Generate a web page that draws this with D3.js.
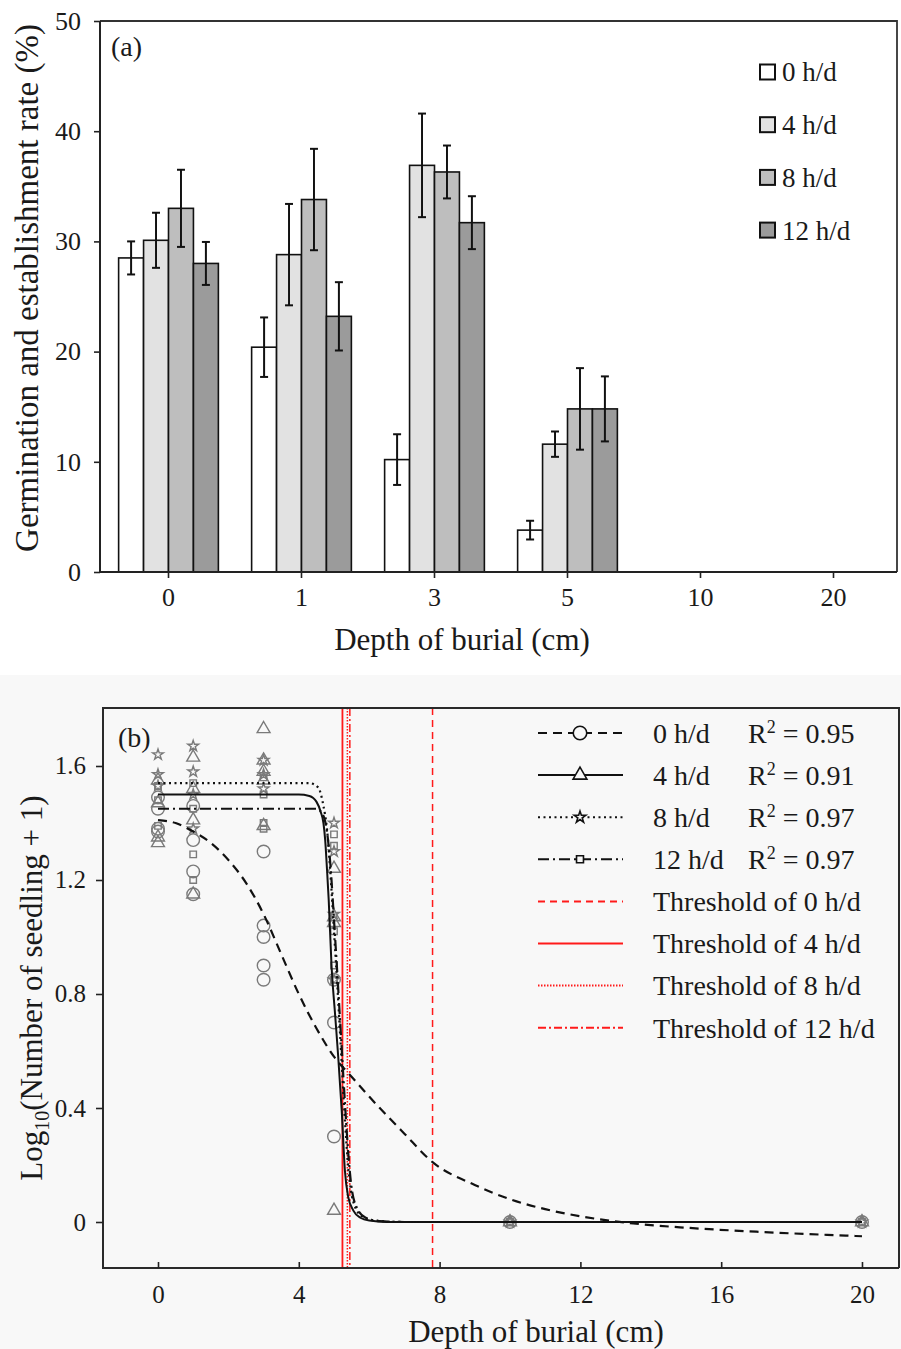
<!DOCTYPE html>
<html>
<head>
<meta charset="utf-8">
<script src="https://cdn.jsdelivr.net/npm/d3@7"></script>
<style>
  body { margin: 0; background: #fff; }
  svg text { font-family: "Liberation Serif", "Times New Roman", serif; fill: #1a1a1a; }
</style>
</head>
<body>
<svg id="chart" width="901" height="1349"></svg>
<script>
// ---------- data, panel (a) ----------
const depthLabels = ["0", "1", "3", "5", "10", "20"];
const seriesNames = ["0 h/d", "4 h/d", "8 h/d", "12 h/d"];
const rate0 = [28.5, 20.4, 10.2, 3.8, 0, 0];
const rate4 = [30.1, 28.8, 36.9, 11.6, 0, 0];
const rate8 = [33.0, 33.8, 36.3, 14.8, 0, 0];
const rate12 = [28.0, 23.2, 31.7, 14.8, 0, 0];
const err0 = [1.5, 2.7, 2.3, 0.85, 0, 0];
const err4 = [2.5, 4.6, 4.7, 1.15, 0, 0];
const err8 = [3.5, 4.6, 2.4, 3.7, 0, 0];
const err12 = [1.95, 3.1, 2.4, 2.95, 0, 0];
const yTicksA = [0, 10, 20, 30, 40, 50];

// ---------- data, panel (b) ----------
const pts0 = [[0,1.49],[0,1.45],[0,1.38],[0,1.37],[1,1.46],[1,1.34],[1,1.23],[1,1.15],
  [3,1.30],[3,1.04],[3,1.00],[3,0.90],[3,0.85],[5,0.85],[5,0.70],[5,0.30],[10,0],[20,0]];
const pts4 = [[0,1.55],[0,1.47],[0,1.35],[0,1.33],[1,1.63],[1,1.52],[1,1.41],[1,1.15],
  [3,1.73],[3,1.62],[3,1.58],[3,1.55],[3,1.39],[5,1.24],[5,1.07],[5,1.05],[5,0.04],[10,0],[20,0]];
const pts8 = [[0,1.64],[0,1.57],[0,1.53],[1,1.67],[1,1.58],[1,1.50],[1,1.38],
  [3,1.62],[3,1.57],[3,1.52],[5,1.40],[5,1.30],[5,1.08],[5,0.85],[10,0],[20,0]];
const pts12 = [[0,1.53],[0,1.48],[0,1.39],[1,1.54],[1,1.45],[1,1.29],[1,1.20],
  [3,1.56],[3,1.50],[3,1.40],[3,1.38],[5,1.36],[5,1.32],[5,1.02],[5,0.90],[5,0.85],[10,0],[20,0]];

// fitted curves
const fit0 = [[0,1.41],[0.5,1.40],[1,1.37],[1.5,1.33],[2,1.27],[2.5,1.19],[3,1.08],[3.5,0.94],
  [4,0.80],[4.5,0.68],[5,0.58],[5.5,0.51],[6,0.44],[7,0.31],[7.8,0.21],[9,0.13],[10,0.08],
  [11,0.045],[12,0.02],[13.5,-0.005],[15,-0.02],[17,-0.034],[20,-0.05]];
const fit4 = [[0,1.50],[4.0,1.50],[4.3,1.495],[4.5,1.475],[4.62,1.44],[4.7,1.40],[4.75,1.34],
  [4.8,1.24],[4.85,1.13],[4.93,0.90],[5.03,0.73],[5.12,0.58],[5.22,0.39],[5.31,0.18],[5.4,0.09],
  [5.55,0.04],[5.75,0.015],[6.0,0.005],[6.5,0],[20,0]];
const fit8 = [[0,1.54],[4.3,1.54],[4.55,1.525],[4.7,1.46],[4.8,1.38],[4.9,1.22],[5.0,1.02],
  [5.1,0.82],[5.2,0.60],[5.3,0.38],[5.4,0.20],[5.55,0.07],[5.8,0.02],[6.2,0.005],[7,0],[20,0]];
const fit12 = [[0,1.45],[4.5,1.45],[4.68,1.43],[4.8,1.37],[4.9,1.25],[5.0,1.06],[5.1,0.86],
  [5.2,0.65],[5.3,0.44],[5.4,0.25],[5.5,0.12],[5.65,0.05],[5.9,0.015],[6.3,0.003],[7,0],[20,0]];

const thresholds = [7.8, 5.24, 5.38, 5.45];
const r2Values = ["0.95", "0.91", "0.97", "0.97"];
const xTicksB = [0, 4, 8, 12, 16, 20];
const yTicksB = [0, 0.4, 0.8, 1.2, 1.6];

const svg = d3.select("#chart");

// ================= panel (a) =================
const a = { left: 100, right: 897, top: 21, bottom: 572 };
const xA = d3.scaleBand().domain(depthLabels).range([102, 900])
  .paddingInner(0.25).paddingOuter(0.125);
const xSub = d3.scaleBand().domain(seriesNames).range([0, xA.bandwidth()]);
const yA = d3.scaleLinear().domain([0, 50]).range([a.bottom, a.top]);
const barFill = d3.scaleOrdinal().domain(seriesNames)
  .range(["#ffffff", "#e2e2e2", "#bebebe", "#9b9b9b"]);

const rates = [rate0, rate4, rate8, rate12];
const errs = [err0, err4, err8, err12];
const bars = [];
seriesNames.forEach((s, i) => {
  depthLabels.forEach((d, j) => {
    bars.push({ series: s, depth: d, value: rates[i][j], err: errs[i][j] });
  });
});

const chartA = svg.append("g");

chartA.selectAll("rect.bar")
  .data(bars.filter(d => d.value > 0))
  .join("rect")
  .attr("class", "bar")
  .attr("x", d => xA(d.depth) + xSub(d.series))
  .attr("y", d => yA(d.value))
  .attr("width", xSub.bandwidth())
  .attr("height", d => yA(0) - yA(d.value))
  .attr("fill", d => barFill(d.series))
  .attr("stroke", "#111")
  .attr("stroke-width", 1.6);

// error bars
const eb = chartA.selectAll("g.err")
  .data(bars.filter(d => d.err > 0))
  .join("g")
  .attr("class", "err")
  .attr("stroke", "#111")
  .attr("stroke-width", 2);
const cx = d => xA(d.depth) + xSub(d.series) + xSub.bandwidth() / 2;
eb.append("line")
  .attr("x1", cx).attr("x2", cx)
  .attr("y1", d => yA(d.value + d.err)).attr("y2", d => yA(d.value - d.err));
eb.append("line")
  .attr("x1", d => cx(d) - 4).attr("x2", d => cx(d) + 4)
  .attr("y1", d => yA(d.value + d.err)).attr("y2", d => yA(d.value + d.err));
eb.append("line")
  .attr("x1", d => cx(d) - 4).attr("x2", d => cx(d) + 4)
  .attr("y1", d => yA(d.value - d.err)).attr("y2", d => yA(d.value - d.err));

// frame
chartA.append("path")
  .attr("d", `M${a.left},${a.top}H${a.right}V${a.bottom}`)
  .attr("fill", "none").attr("stroke", "#333").attr("stroke-width", 1.8);

// axes
const yAxisA = chartA.append("g")
  .attr("transform", `translate(${a.left},0)`)
  .call(d3.axisLeft(yA).tickValues(yTicksA).tickSize(6).tickPadding(13));
const xAxisA = chartA.append("g")
  .attr("transform", `translate(0,${a.bottom})`)
  .call(d3.axisBottom(xA).tickSize(6).tickPadding(10));
[yAxisA, xAxisA].forEach(g => {
  g.attr("font-family", null).attr("font-size", null);
  g.select(".domain").remove();
  g.selectAll("line").attr("stroke", "#222").attr("stroke-width", 1.6);
  g.selectAll("text").attr("font-size", 26).attr("fill", "#1a1a1a");
});
chartA.append("line")
  .attr("x1", a.left).attr("x2", a.right).attr("y1", a.bottom).attr("y2", a.bottom)
  .attr("stroke", "#222").attr("stroke-width", 2);
chartA.append("line")
  .attr("x1", a.left).attr("x2", a.left).attr("y1", a.top).attr("y2", a.bottom)
  .attr("stroke", "#222").attr("stroke-width", 2);

chartA.append("text")
  .attr("x", 111).attr("y", 56).attr("font-size", 28).text("(a)");

chartA.append("text")
  .attr("x", 462).attr("y", 650).attr("text-anchor", "middle")
  .attr("font-size", 31).text("Depth of burial (cm)");
chartA.append("text")
  .attr("transform", "translate(38,288) rotate(-90)")
  .attr("text-anchor", "middle").attr("font-size", 33)
  .text("Germination and establishment rate (%)");

// legend (a)
const legA = chartA.selectAll("g.legA")
  .data(seriesNames)
  .join("g")
  .attr("class", "legA")
  .attr("transform", (d, i) => `translate(760,${72 + i * 52.7})`);
legA.append("rect")
  .attr("x", 0).attr("y", -7.5).attr("width", 15).attr("height", 15)
  .attr("fill", d => barFill(d)).attr("stroke", "#111").attr("stroke-width", 2);
legA.append("text")
  .attr("x", 22).attr("dy", "0.35em").attr("font-size", 27).text(d => d);

// ================= panel (b) =================
const b = { left: 103, right: 899, top: 708, bottom: 1268 };
const xB = d3.scaleLinear().domain([-1.5625, 21.08]).range([103, 900]);
const yB = d3.scaleLinear().domain([-0.1614, 1.8035]).range([1268, 708]);

const chartB = svg.append("g");
chartB.append("rect")
  .attr("x", 0).attr("y", 675).attr("width", 901).attr("height", 674)
  .attr("fill", "#f8f8f8");

svg.append("defs").append("clipPath").attr("id", "clipB")
  .append("rect")
  .attr("x", b.left).attr("y", b.top)
  .attr("width", b.right - b.left).attr("height", b.bottom - b.top);

const shapes = [d3.symbolCircle, d3.symbolTriangle, d3.symbolStar, d3.symbolSquare];
const shapeSize = [125, 72, 36, 42];
const curveDash = ["9,6", null, "2,3.5", "11,4,2,4"];
const redDash = ["7,5", null, "1.5,1.5", "8,3,2,3"];
const points = [pts0, pts4, pts8, pts12];
const fits = [fit0, fit4, fit8, fit12];

// scatter points
points.forEach((pts, i) => {
  chartB.append("g").selectAll("path")
    .data(pts)
    .join("path")
    .attr("transform", d => `translate(${xB(d[0])},${yB(d[1])})`)
    .attr("d", d3.symbol().type(shapes[i]).size(shapeSize[i]))
    .attr("fill", "none")
    .attr("stroke", "#7a7a7a")
    .attr("stroke-width", 1.4);
});

const plotB = chartB.append("g").attr("clip-path", "url(#clipB)");

// threshold lines
plotB.selectAll("line.thr")
  .data(thresholds)
  .join("line")
  .attr("class", "thr")
  .attr("x1", d => xB(d)).attr("x2", d => xB(d))
  .attr("y1", b.top).attr("y2", b.bottom)
  .attr("stroke", "#ff1a1a")
  .attr("stroke-width", (d, i) => i === 1 ? 1.8 : 1.5)
  .attr("stroke-dasharray", (d, i) => redDash[i]);

// fitted curves
const line = d3.line()
  .x(d => xB(d[0])).y(d => yB(d[1]))
  .curve(d3.curveMonotoneX);
plotB.selectAll("path.fit")
  .data(fits)
  .join("path")
  .attr("class", "fit")
  .attr("d", line)
  .attr("fill", "none")
  .attr("stroke", "#111")
  .attr("stroke-width", (d, i) => i === 1 ? 2 : 2.2)
  .attr("stroke-dasharray", (d, i) => curveDash[i]);

// frame
chartB.append("path")
  .attr("d", `M${b.right},${b.bottom}V${b.top}H${b.left}V${b.bottom}H${b.right}`)
  .attr("fill", "none").attr("stroke", "#2a2a2a").attr("stroke-width", 2);

const yAxisB = chartB.append("g")
  .attr("transform", `translate(${b.left},0)`)
  .call(d3.axisLeft(yB).tickValues(yTicksB).tickFormat(d => d === 0 ? "0" : d3.format(".1f")(d))
    .tickSize(7).tickPadding(10));
const xAxisB = chartB.append("g")
  .attr("transform", `translate(0,${b.bottom})`)
  .call(d3.axisBottom(xB).tickValues(xTicksB).tickSizeInner(-6).tickSizeOuter(0).tickPadding(17));
[yAxisB, xAxisB].forEach(g => {
  g.attr("font-family", null).attr("font-size", null);
  g.select(".domain").remove();
  g.selectAll("line").attr("stroke", "#222").attr("stroke-width", 1.6);
  g.selectAll("text").attr("font-size", 25).attr("fill", "#1a1a1a");
});

chartB.append("text")
  .attr("x", 118).attr("y", 747).attr("font-size", 28).text("(b)");

chartB.append("text")
  .attr("x", 536).attr("y", 1342).attr("text-anchor", "middle")
  .attr("font-size", 31).text("Depth of burial (cm)");

const yTitleB = chartB.append("text")
  .attr("transform", "translate(42,988) rotate(-90)")
  .attr("text-anchor", "middle").attr("font-size", 31);
yTitleB.append("tspan").text("Log");
yTitleB.append("tspan").attr("font-size", 20).attr("dy", 7).text("10");
yTitleB.append("tspan").attr("dy", -7).text("(Number of seedling + 1)");

// legend (b)
const legLabels = seriesNames.concat(seriesNames.map(s => "Threshold of " + s));
const legB = chartB.selectAll("g.legB")
  .data(legLabels)
  .join("g")
  .attr("class", "legB")
  .attr("transform", (d, i) => `translate(0,${733 + i * 42.1})`);
legB.append("line")
  .attr("x1", 538).attr("x2", 623)
  .attr("stroke", (d, i) => i < 4 ? "#111" : "#ff1a1a")
  .attr("stroke-width", 2)
  .attr("stroke-dasharray", (d, i) => i < 4 ? curveDash[i] : redDash[i - 4]);
legB.filter((d, i) => i < 4).append("path")
  .attr("transform", "translate(580,0)")
  .attr("d", (d, i) => d3.symbol().type(shapes[i]).size(shapeSize[i] * 1.15)())
  .attr("fill", "#f8f8f8")
  .attr("stroke", "#111")
  .attr("stroke-width", 1.6);
legB.append("text")
  .attr("x", 653).attr("dy", "0.35em").attr("font-size", 28)
  .text(d => d);
const r2 = legB.filter((d, i) => i < 4).append("text")
  .attr("x", 748).attr("dy", "0.35em").attr("font-size", 28);
r2.append("tspan").text("R");
r2.append("tspan").attr("font-size", 18).attr("dy", -10).text("2");
r2.append("tspan").attr("dy", 10).text((d, i) => " = " + r2Values[i]);
</script>
</body>
</html>
